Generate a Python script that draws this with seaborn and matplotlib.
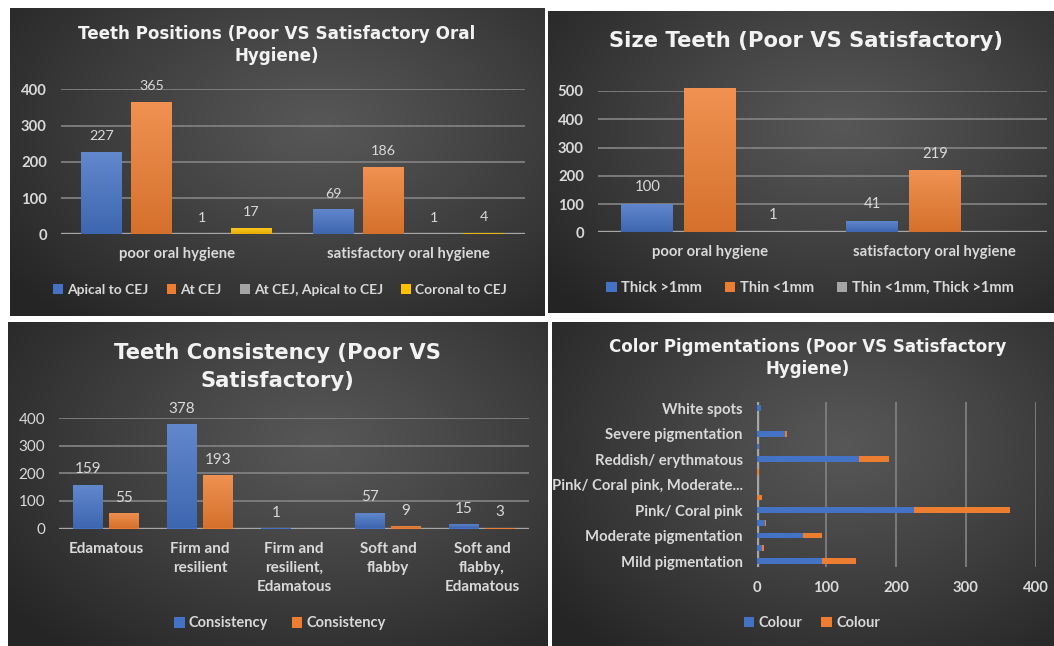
import numpy as np
import pandas as pd
import matplotlib
matplotlib.use("Agg")
import matplotlib.pyplot as plt
import seaborn as sns
from matplotlib.colors import to_rgb
from matplotlib.patches import Patch

# ---------------- data ----------------
pos_groups = ["poor oral hygiene", "satisfactory oral hygiene"]
pos_series = ["Apical to CEJ", "At CEJ", "At CEJ, Apical to CEJ", "Coronal to CEJ"]
pos_apical = [227, 69]
pos_at = [365, 186]
pos_at_apical = [1, 1]
pos_coronal = [17, 4]

size_groups = ["poor oral hygiene", "satisfactory oral hygiene"]
size_series = ["Thick >1mm", "Thin <1mm", "Thin <1mm, Thick >1mm"]
size_thick = [100, 41]
size_thin = [509, 219]
size_both = [1, 0]

cons_categories = ["Edamatous", "Firm and resilient", "Firm and resilient, Edamatous",
                   "Soft and flabby", "Soft and flabby, Edamatous"]
cons_tick_labels = ["Edamatous", "Firm and\nresilient", "Firm and\nresilient,\nEdamatous",
                    "Soft and\nflabby", "Soft and\nflabby,\nEdamatous"]
cons_series = ["Consistency", "Consistency"]
cons_poor = [159, 378, 1, 57, 15]
cons_satis = [55, 193, 0, 9, 3]

# top to bottom as drawn
pig_categories = ["White spots", "Severe pigmentation, Reddish/ erythmatous", "Severe pigmentation",
                  "Reddish/ erythmatous, Severe pigmentation", "Reddish/ erythmatous",
                  "Pink/ Coral pink, Reddish/ erythmatous", "Pink/ Coral pink, Moderate pigmentation",
                  "Pink/ Coral pink, Mild pigmentation", "Pink/ Coral pink",
                  "Moderate pigmentation, Pink/ Coral pink", "Moderate pigmentation",
                  "Mild pigmentation, Pink/ Coral pink", "Mild pigmentation"]
pig_tick_labels = ["White spots", "", "Severe pigmentation", "", "Reddish/ erythmatous", "",
                   "Pink/ Coral pink, Moderate...", "", "Pink/ Coral pink", "",
                   "Moderate pigmentation", "", "Mild pigmentation"]
pig_series = ["Colour", "Colour"]
pig_poor = [6, 1, 41, 3, 147, 0, 1, 0, 226, 12, 67, 8, 94]
pig_satis = [0, 0, 3, 0, 43, 3, 0, 7, 137, 1, 26, 3, 48]

titles = ["Teeth Positions (Poor VS Satisfactory Oral\nHygiene)",
          "Size Teeth (Poor VS Satisfactory)",
          "Teeth Consistency (Poor VS\nSatisfactory)",
          "Color Pigmentations (Poor VS Satisfactory\nHygiene)"]

# ---------------- style ----------------
BLUE, ORANGE, GRAY, YELLOW = "#4472C4", "#ED7D31", "#A5A5A5", "#FFC000"
TXT = "#d9d9d9"
TITLE_C = "#f2f2f2"
GRID = "#7f7f7f"
AXLINE = "#a6a6a6"

sns.set_theme(style="dark")
plt.rcParams["font.family"] = ["Lato", "DejaVu Sans"]

W, H = 1054, 646
fig = plt.figure(figsize=(W / 100, H / 100), dpi=100, facecolor="white")


def px_axes(l, t, r, b, **kw):
    return fig.add_axes([l / W, 1 - b / H, (r - l) / W, (b - t) / H], **kw)


def background(l, t, r, b, cx=0.58, cy=0.38):
    ax = px_axes(l, t, r, b)
    w, h = int(r - l), int(b - t)
    xx, yy = np.meshgrid(np.linspace(0, 1, w), np.linspace(0, 1, h))
    d = np.sqrt(((xx - cx) * 1.0) ** 2 + ((yy - cy) * 0.9) ** 2) / 0.74
    d = np.clip(d, 0, 1) ** 1.1
    c0 = np.array(to_rgb("#575757"))
    c1 = np.array(to_rgb("#252525"))
    img = c0 * (1 - d[..., None]) + c1 * d[..., None]
    ax.imshow(img, aspect="auto", extent=(0, 1, 0, 1), origin="upper")
    ax.set_axis_off()
    ax.set_zorder(-10)
    return ax


def shade_bars(ax):
    xl, yl = ax.get_xlim(), ax.get_ylim()
    for p in list(ax.patches):
        w, h = p.get_width(), p.get_height()
        if w == 0 or h == 0:
            continue
        x0, y0 = p.get_x(), p.get_y()
        c = np.array(to_rgb(p.get_facecolor()))
        top = c + (1 - c) * 0.16
        bot = c * 0.9
        t = np.linspace(0, 1, 64)[:, None]
        grad = (top * (1 - t) + bot * t)[:, None, :]
        im = ax.imshow(grad, extent=(x0, x0 + w, y0, y0 + h), origin="upper",
                       aspect="auto", zorder=p.get_zorder() + 0.1, interpolation="bilinear")
        im.set_clip_path(p)
    ax.set_xlim(xl)
    ax.set_ylim(yl)


def style_axes(ax, fs=10):
    ax.set_facecolor("none")
    for s in ax.spines.values():
        s.set_visible(False)
    ax.tick_params(colors=TXT, length=0, labelsize=fs)
    ax.set_xlabel("")
    ax.set_ylabel("")


def add_legend(ax, colors, labels, cx, cy, fs=10, colsp=1.3):
    handles = [Patch(facecolor=c, edgecolor="none") for c in colors]
    leg = ax.legend(handles, labels, loc="center", bbox_to_anchor=(cx / W, 1 - cy / H),
                    bbox_transform=fig.transFigure, ncol=len(labels), frameon=False,
                    handlelength=0.7, handleheight=0.7, handletextpad=0.3,
                    columnspacing=colsp, fontsize=fs, borderaxespad=0, borderpad=0)
    for t in leg.get_texts():
        t.set_color(TXT)
        t.set_fontweight("bold")
    return leg


def title(s, cx, cy, fs, ls):
    fig.text(cx / W, 1 - cy / H, s, ha="center", va="center", fontsize=fs,
             fontweight="bold", color=TITLE_C, linespacing=ls,
             family=["DejaVu Sans"])


BAR_KW = dict(saturation=1, errorbar=None, edgecolor="none", linewidth=0)

# backgrounds
background(10, 8, 545, 316)
background(548, 11, 1054, 313)
background(8, 322, 548, 646)
background(552, 322, 1054, 646)

# ---------------- panel 1: Teeth positions ----------------
ax1 = px_axes(60.7, 89.3, 524.7, 234.3)
df1 = pd.DataFrame({
    "group": pos_groups * 4,
    "series": sum([[s] * 2 for s in pos_series], []),
    "value": pos_apical + pos_at + pos_at_apical + pos_coronal,
})
pal1 = [BLUE, ORANGE, GRAY, YELLOW]
sns.barplot(data=df1, x="group", y="value", hue="series", hue_order=pos_series,
            order=pos_groups, palette=pal1, width=0.86, gap=0.18,
            legend=False, ax=ax1, zorder=3, **BAR_KW)
ax1.set_ylim(0, 400)
ax1.set_xlim(-0.5, 1.5)
ax1.set_yticks([0, 100, 200, 300, 400])
style_axes(ax1, fs=10.7)
ax1.yaxis.grid(True, color=GRID, lw=1.3)
ax1.xaxis.grid(False)
ax1.axhline(0, color=AXLINE, lw=2.4, zorder=2.5)
ax1.tick_params(axis="y", pad=10)
ax1.tick_params(axis="x", pad=9)
for tl in ax1.get_yticklabels() + ax1.get_xticklabels():
    tl.set_fontweight("bold")
for cont in ax1.containers:
    ax1.bar_label(cont, labels=[f"{v:g}" if v else "" for v in cont.datavalues],
                  padding=7, color=TXT, fontsize=10.3)
shade_bars(ax1)
add_legend(ax1, pal1, pos_series, 280, 290, fs=10, colsp=1.3)
title(titles[0], 277, 45, 12.1, 1.3)

# ---------------- panel 2: Size teeth ----------------
ax2 = px_axes(597.7, 91, 1047, 232.3)
df2 = pd.DataFrame({
    "group": size_groups * 3,
    "series": sum([[s] * 2 for s in size_series], []),
    "value": size_thick + size_thin + size_both,
})
pal2 = [BLUE, ORANGE, GRAY]
sns.barplot(data=df2, x="group", y="value", hue="series", hue_order=size_series,
            order=size_groups, palette=pal2, width=0.837, gap=0.175,
            legend=False, ax=ax2, zorder=3, **BAR_KW)
ax2.set_ylim(0, 500)
ax2.set_xlim(-0.5, 1.5)
ax2.set_yticks([0, 100, 200, 300, 400, 500])
style_axes(ax2, fs=10.7)
ax2.yaxis.grid(True, color=GRID, lw=1.3)
ax2.xaxis.grid(False)
ax2.axhline(0, color=AXLINE, lw=2.4, zorder=2.5)
ax2.tick_params(axis="y", pad=10)
ax2.tick_params(axis="x", pad=9)
for tl in ax2.get_yticklabels() + ax2.get_xticklabels():
    tl.set_fontweight("bold")
for cont in ax2.containers:
    ax2.bar_label(cont, labels=[f"{v:g}" if v else "" for v in cont.datavalues],
                  padding=7, color=TXT, fontsize=10.7)
shade_bars(ax2)
add_legend(ax2, pal2, size_series, 810, 288, fs=10.5, colsp=1.6)
title(titles[1], 806, 41, 15.2, 1.2)

# ---------------- panel 3: Consistency ----------------
ax3 = px_axes(59, 418, 529, 528.5)
keys3 = ["poor", "satisfactory"]
df3 = pd.DataFrame({
    "cat": cons_categories * 2,
    "key": [keys3[0]] * 5 + [keys3[1]] * 5,
    "value": cons_poor + cons_satis,
})
pal3 = [BLUE, ORANGE]
sns.barplot(data=df3, x="cat", y="value", hue="key", hue_order=keys3, order=cons_categories,
            palette=pal3, width=0.76, gap=0.18, legend=False, ax=ax3, zorder=3, **BAR_KW)
ax3.set_ylim(0, 400)
ax3.set_xlim(-0.5, 4.5)
ax3.set_yticks([0, 100, 200, 300, 400])
ax3.set_xticks(range(len(cons_categories)))
ax3.set_xticklabels(cons_tick_labels, linespacing=1.42)
style_axes(ax3, fs=11)
ax3.yaxis.grid(True, color=GRID, lw=1.3)
ax3.xaxis.grid(False)
ax3.axhline(0, color=AXLINE, lw=2.4, zorder=2.5)
ax3.tick_params(axis="y", pad=10)
ax3.tick_params(axis="x", pad=10)
for tl in ax3.get_xticklabels():
    tl.set_fontweight("bold")
    tl.set_verticalalignment("top")
for cont in ax3.containers:
    ax3.bar_label(cont, labels=[f"{v:g}" if v else "" for v in cont.datavalues],
                  padding=6, color=TXT, fontsize=11)
shade_bars(ax3)
add_legend(ax3, pal3, cons_series, 280, 623.5, fs=10.5, colsp=1.6)
title(titles[2], 277.5, 367, 15.2, 1.45)

# ---------------- panel 4: Colour pigmentations ----------------
ax4 = px_axes(756.7, 401.9, 1035.7, 567.4)
df4 = pd.DataFrame({"cat": pig_categories, "poor": pig_poor, "satis": pig_satis})
df4["total"] = df4["poor"] + df4["satis"]
sns.barplot(data=df4, y="cat", x="total", order=pig_categories, color=ORANGE, orient="h",
            width=0.45, ax=ax4, zorder=3, **BAR_KW)
sns.barplot(data=df4, y="cat", x="poor", order=pig_categories, color=BLUE, orient="h",
            width=0.45, ax=ax4, zorder=4, **BAR_KW)
ax4.set_xlim(0, 400)
ax4.set_ylim(len(pig_categories) - 0.5, -0.5)
ax4.set_xticks([0, 100, 200, 300, 400])
ax4.set_yticks(range(len(pig_categories)))
ax4.set_yticklabels(pig_tick_labels)
style_axes(ax4, fs=10.7)
ax4.xaxis.grid(True, color=GRID, lw=1.3)
ax4.yaxis.grid(False)
ax4.axvline(0, color=AXLINE, lw=2.4, zorder=2.5)
ax4.tick_params(axis="y", pad=10)
ax4.tick_params(axis="x", pad=10, labelsize=10.7)
for tl in ax4.get_yticklabels() + ax4.get_xticklabels():
    tl.set_fontweight("bold")
add_legend(ax4, pal3, pig_series, 812, 623, fs=10.5, colsp=1.3)
title(titles[3], 808, 358, 12.0, 1.35)

fig.savefig("out.png", dpi=100, facecolor="white")
